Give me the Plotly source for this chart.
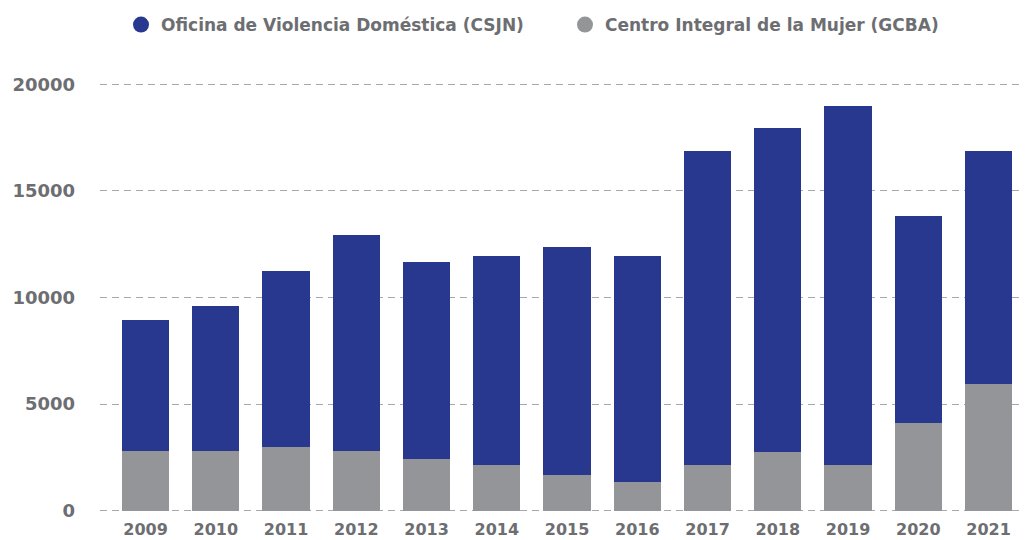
import plotly.graph_objects as go

years = ["2009", "2010", "2011", "2012", "2013", "2014", "2015", "2016", "2017", "2018", "2019", "2020", "2021"]
cim_gcba = [2780, 2780, 3000, 2780, 2410, 2160, 1690, 1360, 2160, 2770, 2160, 4090, 5950]
ovd_csjn = [6170, 6830, 8250, 10160, 9260, 9790, 10690, 10590, 14720, 15190, 16830, 9740, 10930]
y_ticks = [0, 5000, 10000, 15000, 20000]
y_tick_labels = ["0", "5000", "10000", "15000", "20000"]

BLUE = "#28388F"
GRAY = "#939598"
TEXT = "#6D6E71"
FONT = "DejaVu Sans"

fig = go.Figure()
fig.add_trace(go.Bar(x=years, y=cim_gcba, marker=dict(color=GRAY, line=dict(width=0)),
                     name="Centro Integral de la Mujer (GCBA)", showlegend=False))
fig.add_trace(go.Bar(x=years, y=ovd_csjn, marker=dict(color=BLUE, line=dict(width=0)),
                     name="Oficina de Violencia Doméstica (CSJN)", showlegend=False))
fig.add_trace(go.Scatter(x=[None], y=[None], mode="markers", name="Oficina de Violencia Doméstica (CSJN)",
                         marker=dict(color=BLUE, size=20, symbol="circle")))
fig.add_trace(go.Scatter(x=[None], y=[None], mode="markers", name="Centro Integral de la Mujer (GCBA)",
                         marker=dict(color=GRAY, size=20, symbol="circle")))

fig.update_layout(
    width=1027, height=540,
    barmode="stack", bargap=0.33,
    plot_bgcolor="white", paper_bgcolor="white",
    margin=dict(l=100, r=3, t=83, b=28),
    font=dict(family=FONT, color=TEXT),
    legend=dict(orientation="h", traceorder="normal", xref="container", yref="container",
                x=121 / 1027, xanchor="left", y=1 - 25 / 540, yanchor="middle", entrywidth=399,
                font=dict(size=17, color=TEXT, weight="bold"), itemsizing="trace"),
    xaxis=dict(type="category", range=[-0.648, 12.505], showgrid=False, showline=False, ticks="",
               automargin=False, ticklabelstandoff=6,
               tickfont=dict(size=16, color=TEXT, weight="bold")),
    yaxis=dict(range=[-63, 20064], tickvals=y_ticks, ticktext=y_tick_labels, showline=False,
               zeroline=False, automargin=False,
               gridcolor="#A7A9AC", griddash="7px,5px", gridwidth=1, ticks="",
               ticklabelstandoff=24,
               tickfont=dict(size=18, color=TEXT, weight="bold")),
)

fig.write_html("out.html", config={"displayModeBar": False},
               post_script="document.body.style.margin='0';")
